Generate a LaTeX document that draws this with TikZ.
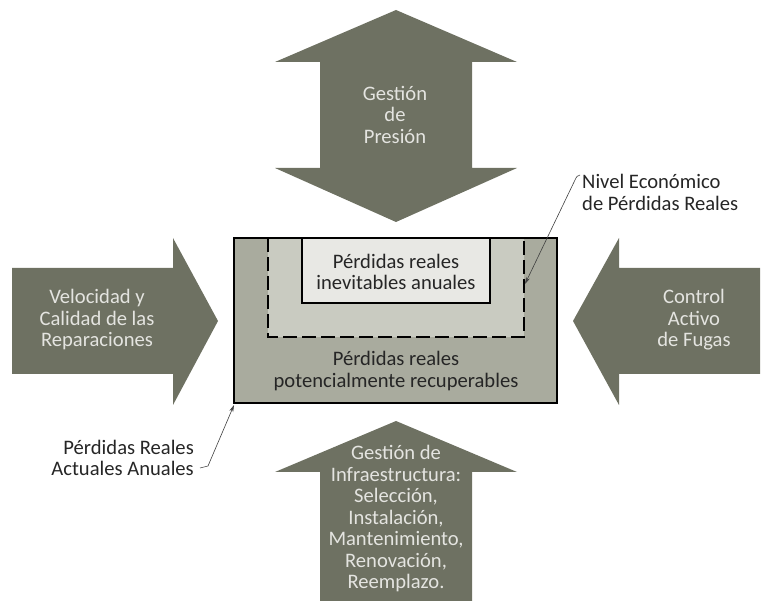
\documentclass[tikz,border=0pt]{standalone}
\usepackage{fontspec}
\setmainfont{Carlito}
\usetikzlibrary{arrows.meta}
\definecolor{arrowfill}{HTML}{6E7162}
\definecolor{arrowtext}{HTML}{E4E4E0}
\definecolor{outerfill}{HTML}{A9AB9E}
\definecolor{midfill}{HTML}{C9CBC1}
\definecolor{innerfill}{HTML}{E8E8E4}
\definecolor{inktext}{HTML}{262626}
\begin{document}
\begin{tikzpicture}[x=1pt,y=-1pt,
  bigarrow/.style={fill=arrowfill,draw=none},
  txt/.style={inner sep=0pt,font=\fontsize{20.6}{21.5}\selectfont},
  arrowlabel/.style={txt,text=arrowtext,align=center},
  boxlabel/.style={txt,text=inktext,align=center},
  note/.style={txt,text=inktext},
  border/.style={draw=black,line width=2.5pt},
  level/.style={draw=black,line width=2.5pt,dash pattern=on 14pt off 5pt},
  leader/.style={draw=black!75,line width=0.6pt,-{Stealth[length=7pt,width=4pt]}}]
\useasboundingbox (0,0) rectangle (766,601);

% four pressure arrows around the box
\path[bigarrow] (396,10) -- (517,62) -- (472,62) -- (472,168) -- (517,168)
  -- (396,222) -- (275,168) -- (320,168) -- (320,62) -- (275,62) -- cycle;
\path[bigarrow] (12,268) -- (173,268) -- (173,238) -- (218,321) -- (173,405)
  -- (173,374) -- (12,374) -- cycle;
\path[bigarrow] (760,268) -- (619,268) -- (619,238) -- (573,321) -- (619,405)
  -- (619,374) -- (760,374) -- cycle;
\path[bigarrow] (396,421) -- (517,472) -- (472,472) -- (472,601) -- (320,601)
  -- (320,472) -- (275,472) -- cycle;

\node[arrowlabel] (pres) at (395,114.5) {Gestión\\de\\Presión};
\node[arrowlabel] (rep) at (97,320) {Velocidad y\\Calidad de las\\Reparaciones};
\node[arrowlabel] (fug) at (694,320) {Control\\Activo\\de Fugas};
\node[arrowlabel] (inf) at (396,519) {Gestión de\\Infraestructura:\\Selección,\\Instalación,\\Mantenimiento,\\Renovación,\\Reemplazo.};

% loss levels
\fill[outerfill] (234,238) rectangle (557,403);
\fill[midfill] (268,238) rectangle (524,337);
\draw[level] (268,238) -- (268,337) -- (524,337) -- (524,238);
\draw[border,fill=innerfill] (302,238) rectangle (490,303);
\draw[border] (234,238) rectangle (557,403);

\node[boxlabel] (inev) at (396,272) {Pérdidas reales\\inevitables anuales};
\node[boxlabel] (recu) at (396,371) {Pérdidas reales\\potencialmente recuperables};

% callouts
\node[note,anchor=west,align=left] (nivel) at (582,192.5) {Nivel Económico\\de Pérdidas Reales};
\node[note,anchor=east,align=right] (act) at (194,458) {Pérdidas Reales\\Actuales Anuales};
\coordinate (nivelstart) at (580,175);
\coordinate (niveltip) at (525,284);
\coordinate (actstart) at (200,468);
\coordinate (acttip) at (234,405);
\draw[leader] (nivelstart) .. controls (577,176) .. (575,180) -- (niveltip);
\draw[leader] (actstart) -- (208,466) -- (acttip);
\end{tikzpicture}
\end{document}
